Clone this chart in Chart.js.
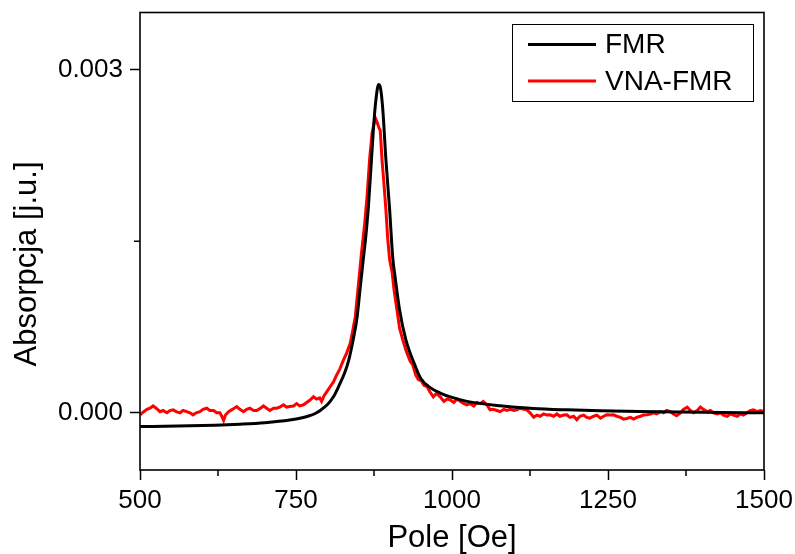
<!DOCTYPE html>
<html>
<head>
<meta charset="utf-8">
<title>FMR vs VNA-FMR</title>
<script src="https://cdn.jsdelivr.net/npm/chart.js@4.4.0/dist/chart.umd.min.js"></script>
<style>
  html, body { margin: 0; padding: 0; background: #fff; }
</style>
</head>
<body>
<canvas id="fmrChart" width="795" height="554"></canvas>
<script>

// FMR (black) - field [Oe] and absorption
var fmrField = [500, 560, 620, 660, 700, 740, 760, 770, 780, 790, 800, 810, 820, 828, 834, 842, 848, 853, 858, 862, 866, 871, 876, 880, 882, 885, 889, 894, 900, 905, 909, 916, 926, 941, 950, 965, 981, 1000, 1024, 1077, 1130, 1184, 1238, 1300, 1400, 1500];
var fmrValue = [-0.000120, -0.000116, -0.000108, -0.000099, -0.000086, -0.000063, -0.000043, -0.000028, -0.000008, 0.000025, 0.000070, 0.000140, 0.000250, 0.000350, 0.000450, 0.000650, 0.000840, 0.001100, 0.001350, 0.001550, 0.001800, 0.002220, 0.002620, 0.002820, 0.002870, 0.002850, 0.002660, 0.002220, 0.001780, 0.001360, 0.001180, 0.000900, 0.000640, 0.000410, 0.000300, 0.000220, 0.000173, 0.000135, 0.000100, 0.000061, 0.000038, 0.000026, 0.000018, 0.000012, 0.000005, 0.000000];

// VNA-FMR (red)
var vnaField = [500, 506, 511, 516, 521, 526, 532, 537, 543, 548, 553, 558, 564, 569, 575, 580, 585, 590, 596, 601, 607, 612, 618, 623, 628, 631, 634, 637, 642, 648, 655, 660, 666, 671, 676, 682, 687, 693, 698, 703, 708, 714, 719, 724, 730, 735, 740, 746, 751, 756, 762, 767, 772, 778, 783, 788, 791, 795, 800, 805, 810, 815, 820, 826, 831, 837, 841, 845, 850, 855, 860, 864, 868, 872, 877, 880, 883, 885, 888, 891, 894, 897, 900, 904, 907, 911, 916, 921, 926, 933, 937, 942, 946, 951, 955, 960, 965, 970, 975, 981, 987, 992, 997, 1003, 1008, 1013, 1019, 1024, 1029, 1035, 1040, 1045, 1050, 1056, 1061, 1066, 1072, 1077, 1083, 1088, 1093, 1099, 1104, 1109, 1115, 1120, 1125, 1131, 1136, 1141, 1147, 1152, 1157, 1163, 1168, 1173, 1179, 1184, 1189, 1195, 1200, 1205, 1211, 1216, 1221, 1227, 1232, 1238, 1243, 1248, 1254, 1259, 1264, 1270, 1275, 1280, 1286, 1291, 1296, 1302, 1307, 1312, 1318, 1323, 1328, 1334, 1339, 1344, 1350, 1355, 1360, 1366, 1371, 1377, 1382, 1387, 1393, 1398, 1403, 1409, 1414, 1419, 1425, 1430, 1435, 1441, 1446, 1451, 1457, 1462, 1467, 1473, 1478, 1483, 1489, 1494, 1500];
var vnaValue = [-0.000018, 0.00001, 0.00003, 0.00004, 0.00006, 0.00004, 0.00001, 0.00002, 0.0, 0.00002, 0.000026, 0.00001, 0.0, 0.00002, 0.00001, 0.0, -0.000018, 0.0, 0.00001, 0.00003, 0.00004, 0.00002, 0.00002, 0.0, 0.0, -0.00003, -0.000067, -0.00002, 0.00001, 0.00003, 0.000055, 0.00003, 0.00001, 0.00003, 0.00004, 0.00002, 0.00002, 0.00004, 0.00006, 0.00004, 0.00002, 0.00004, 0.00004, 0.00005, 0.00007, 0.00005, 0.000055, 0.00006, 0.00008, 0.00006, 0.00007, 0.00009, 0.00011, 0.00014, 0.00012, 0.00013, 0.0001, 0.00015, 0.00019, 0.00023, 0.00027, 0.00033, 0.00038, 0.00046, 0.00052, 0.00061, 0.00072, 0.00084, 0.00112, 0.0014, 0.00165, 0.0019, 0.00222, 0.00245, 0.00258, 0.00254, 0.00249, 0.00247, 0.0022, 0.002, 0.00178, 0.00152, 0.00134, 0.00123, 0.00108, 0.00093, 0.00074, 0.00064, 0.00055, 0.00045, 0.00042, 0.00033, 0.00029, 0.00028, 0.00024, 0.00023, 0.00018, 0.00014, 0.00017, 0.00014, 0.0001, 0.00012, 0.000114, 0.00009, 0.00012, 0.0001, 0.00008, 0.00007, 0.00008, 0.00006, 0.00009, 0.00008, 0.0001, 0.00007, 0.000026, 0.00003, 0.00002, 0.00001, 0.00003, 0.00002, 0.00003, 0.00002, 0.000026, 0.00004, 0.00003, 0.000026, 0.0, -0.000038, -0.00002, -0.00003, -0.00001, -0.00002, -0.000018, -0.00003, -0.00001, -0.00003, -0.00002, -0.000018, -0.00004, -0.00003, -0.00006, -0.00003, -0.00002, -0.00004, -0.000047, -0.00003, -0.00002, -0.000047, -0.00003, -0.000018, -0.00002, -0.000018, -0.00003, -0.00004, -0.000055, -0.00005, -0.00004, -0.000055, -0.00004, -0.00003, -0.00002, -0.000018, -0.00001, 0.0, -0.00001, 0.00001, 0.0, 0.00002, 0.00001, -0.00001, -0.000026, 0.0, 0.00003, 0.00005, 0.00002, 0.0, 0.00002, 0.00005, 0.00003, 0.00001, 0.00002, 0.0, -0.00001, 0.0, -0.00002, -0.00003, -0.00001, -0.00002, -0.00003, -0.00001, -0.00002, 0.0, 0.00002, 0.000026, 0.00001, 0.00002, 0.00001];

// ticks
var xMajorTicks = [500, 750, 1000, 1250, 1500];
var xMinorTicks = [625, 875, 1125, 1375];
var yMajorTicks = [0, 0.003];
var yMinorTicks = [0.0015];
var yTickLabels = ['0.000', '0.003'];

var seriesLabels = ['FMR', 'VNA-FMR'];
var xTitle = 'Pole [Oe]';
var yTitle = 'Absorpcja [j.u.]';

var FONT = "'Liberation Sans', Arial, sans-serif";

function toPoints(xs, ys){
  var pts = [];
  for (var i = 0; i < xs.length; i++) pts.push({x: xs[i], y: ys[i]});
  return pts;
}

function isMinor(list, v){
  for (var i = 0; i < list.length; i++) if (Math.abs(list[i] - v) < 1e-9) return true;
  return false;
}

// frame, short minor ticks, y title, boxed legend
var decorations = {
  id: 'decorations',
  afterDraw: function(chart){
    var ctx = chart.ctx;
    var a = chart.chartArea;
    var xs = chart.scales.x, ys = chart.scales.y;
    ctx.save();
    ctx.strokeStyle = '#000';
    ctx.lineWidth = 1.6;
    ctx.strokeRect(a.left, a.top, a.right - a.left, a.bottom - a.top);

    ctx.lineWidth = 1.5;
    ctx.beginPath();
    xMinorTicks.forEach(function(v){
      var px = xs.getPixelForValue(v);
      ctx.moveTo(px, a.bottom);
      ctx.lineTo(px, a.bottom + 6);
    });
    yMinorTicks.forEach(function(v){
      var py = ys.getPixelForValue(v);
      ctx.moveTo(a.left, py);
      ctx.lineTo(a.left - 6, py);
    });
    ctx.stroke();

    // y title (Origin places it a bit below the axis centre)
    ctx.font = '31px ' + FONT;
    ctx.fillStyle = '#000';
    ctx.textAlign = 'center';
    ctx.textBaseline = 'middle';
    ctx.translate(27, 264);
    ctx.rotate(-Math.PI / 2);
    ctx.fillText(yTitle, 0, 0);
    ctx.restore();

    // legend
    ctx.save();
    ctx.strokeStyle = '#000';
    ctx.lineWidth = 1;
    ctx.strokeRect(512.5, 24.5, 241, 77);
    ctx.font = '28px ' + FONT;
    ctx.textAlign = 'left';
    ctx.textBaseline = 'middle';
    chart.data.datasets.forEach(function(ds, i){
      var ly = 44.5 + i * 36.5;
      ctx.strokeStyle = ds.borderColor;
      ctx.lineWidth = 3;
      ctx.beginPath();
      ctx.moveTo(528, ly);
      ctx.lineTo(596, ly);
      ctx.stroke();
      ctx.fillStyle = '#000';
      ctx.fillText(ds.label, 605, ly + 1);
    });
    ctx.restore();
  }
};

function getFmrChart(){
  var ctx = document.getElementById('fmrChart').getContext('2d');
  var chart = new Chart(ctx, {
    type: 'line',
    data: {
      datasets: [{
        label: seriesLabels[0],
        data: toPoints(fmrField, fmrValue),
        borderColor: '#000000',
        borderWidth: 3,
        pointRadius: 0,
        cubicInterpolationMode: 'monotone',
        fill: false
      }, {
        label: seriesLabels[1],
        data: toPoints(vnaField, vnaValue),
        borderColor: '#ff0000',
        borderWidth: 3,
        pointRadius: 0,
        tension: 0,
        fill: false
      }]
    },
    options: {
      responsive: false,
      animation: false,
      layout: { padding: { top: 12.5, right: 31, bottom: 0, left: 0 } },
      plugins: { legend: { display: false }, tooltip: { enabled: false } },
      scales: {
        x: {
          type: 'linear',
          min: 500,
          max: 1500,
          afterBuildTicks: function(scale){
            scale.ticks = xMajorTicks.concat(xMinorTicks).sort(function(a, b){ return a - b; })
              .map(function(v){ return {value: v}; });
          },
          afterFit: function(scale){
            scale.height = 84;
            scale.paddingLeft = 0;
            scale.paddingRight = 0;
          },
          grid: {
            display: true,
            drawOnChartArea: false,
            tickLength: 10,
            tickWidth: 1.5,
            tickColor: function(c){ return isMinor(xMinorTicks, c.tick.value) ? 'rgba(0,0,0,0)' : '#000'; }
          },
          border: { display: false },
          ticks: {
            autoSkip: false,
            maxRotation: 0,
            padding: 5,
            color: '#000',
            font: { family: FONT, size: 26 },
            callback: function(v){ return isMinor(xMinorTicks, v) ? '' : String(v); }
          },
          title: {
            display: true,
            text: xTitle,
            color: '#000',
            font: { family: FONT, size: 31, lineHeight: 1 },
            padding: { top: 0, bottom: 0 }
          }
        },
        y: {
          type: 'linear',
          min: -0.0005,
          max: 0.0035,
          afterBuildTicks: function(scale){
            scale.ticks = yMajorTicks.concat(yMinorTicks).sort(function(a, b){ return a - b; })
              .map(function(v){ return {value: v}; });
          },
          afterFit: function(scale){
            scale.width = 140;
            scale.paddingTop = 0;
            scale.paddingBottom = 0;
          },
          grid: {
            display: true,
            drawOnChartArea: false,
            tickLength: 10,
            tickWidth: 1.5,
            tickColor: function(c){ return isMinor(yMinorTicks, c.tick.value) ? 'rgba(0,0,0,0)' : '#000'; }
          },
          border: { display: false },
          ticks: {
            autoSkip: false,
            padding: 7,
            color: '#000',
            font: { family: FONT, size: 26 },
            callback: function(v){
              var k = yMajorTicks.indexOf(v);
              return k >= 0 ? yTickLabels[k] : '';
            }
          },
          title: { display: false }
        }
      }
    },
    plugins: [decorations]
  });
}

function init(){
  getFmrChart();
}

document.addEventListener('DOMContentLoaded', init);
</script>
</body>
</html>
